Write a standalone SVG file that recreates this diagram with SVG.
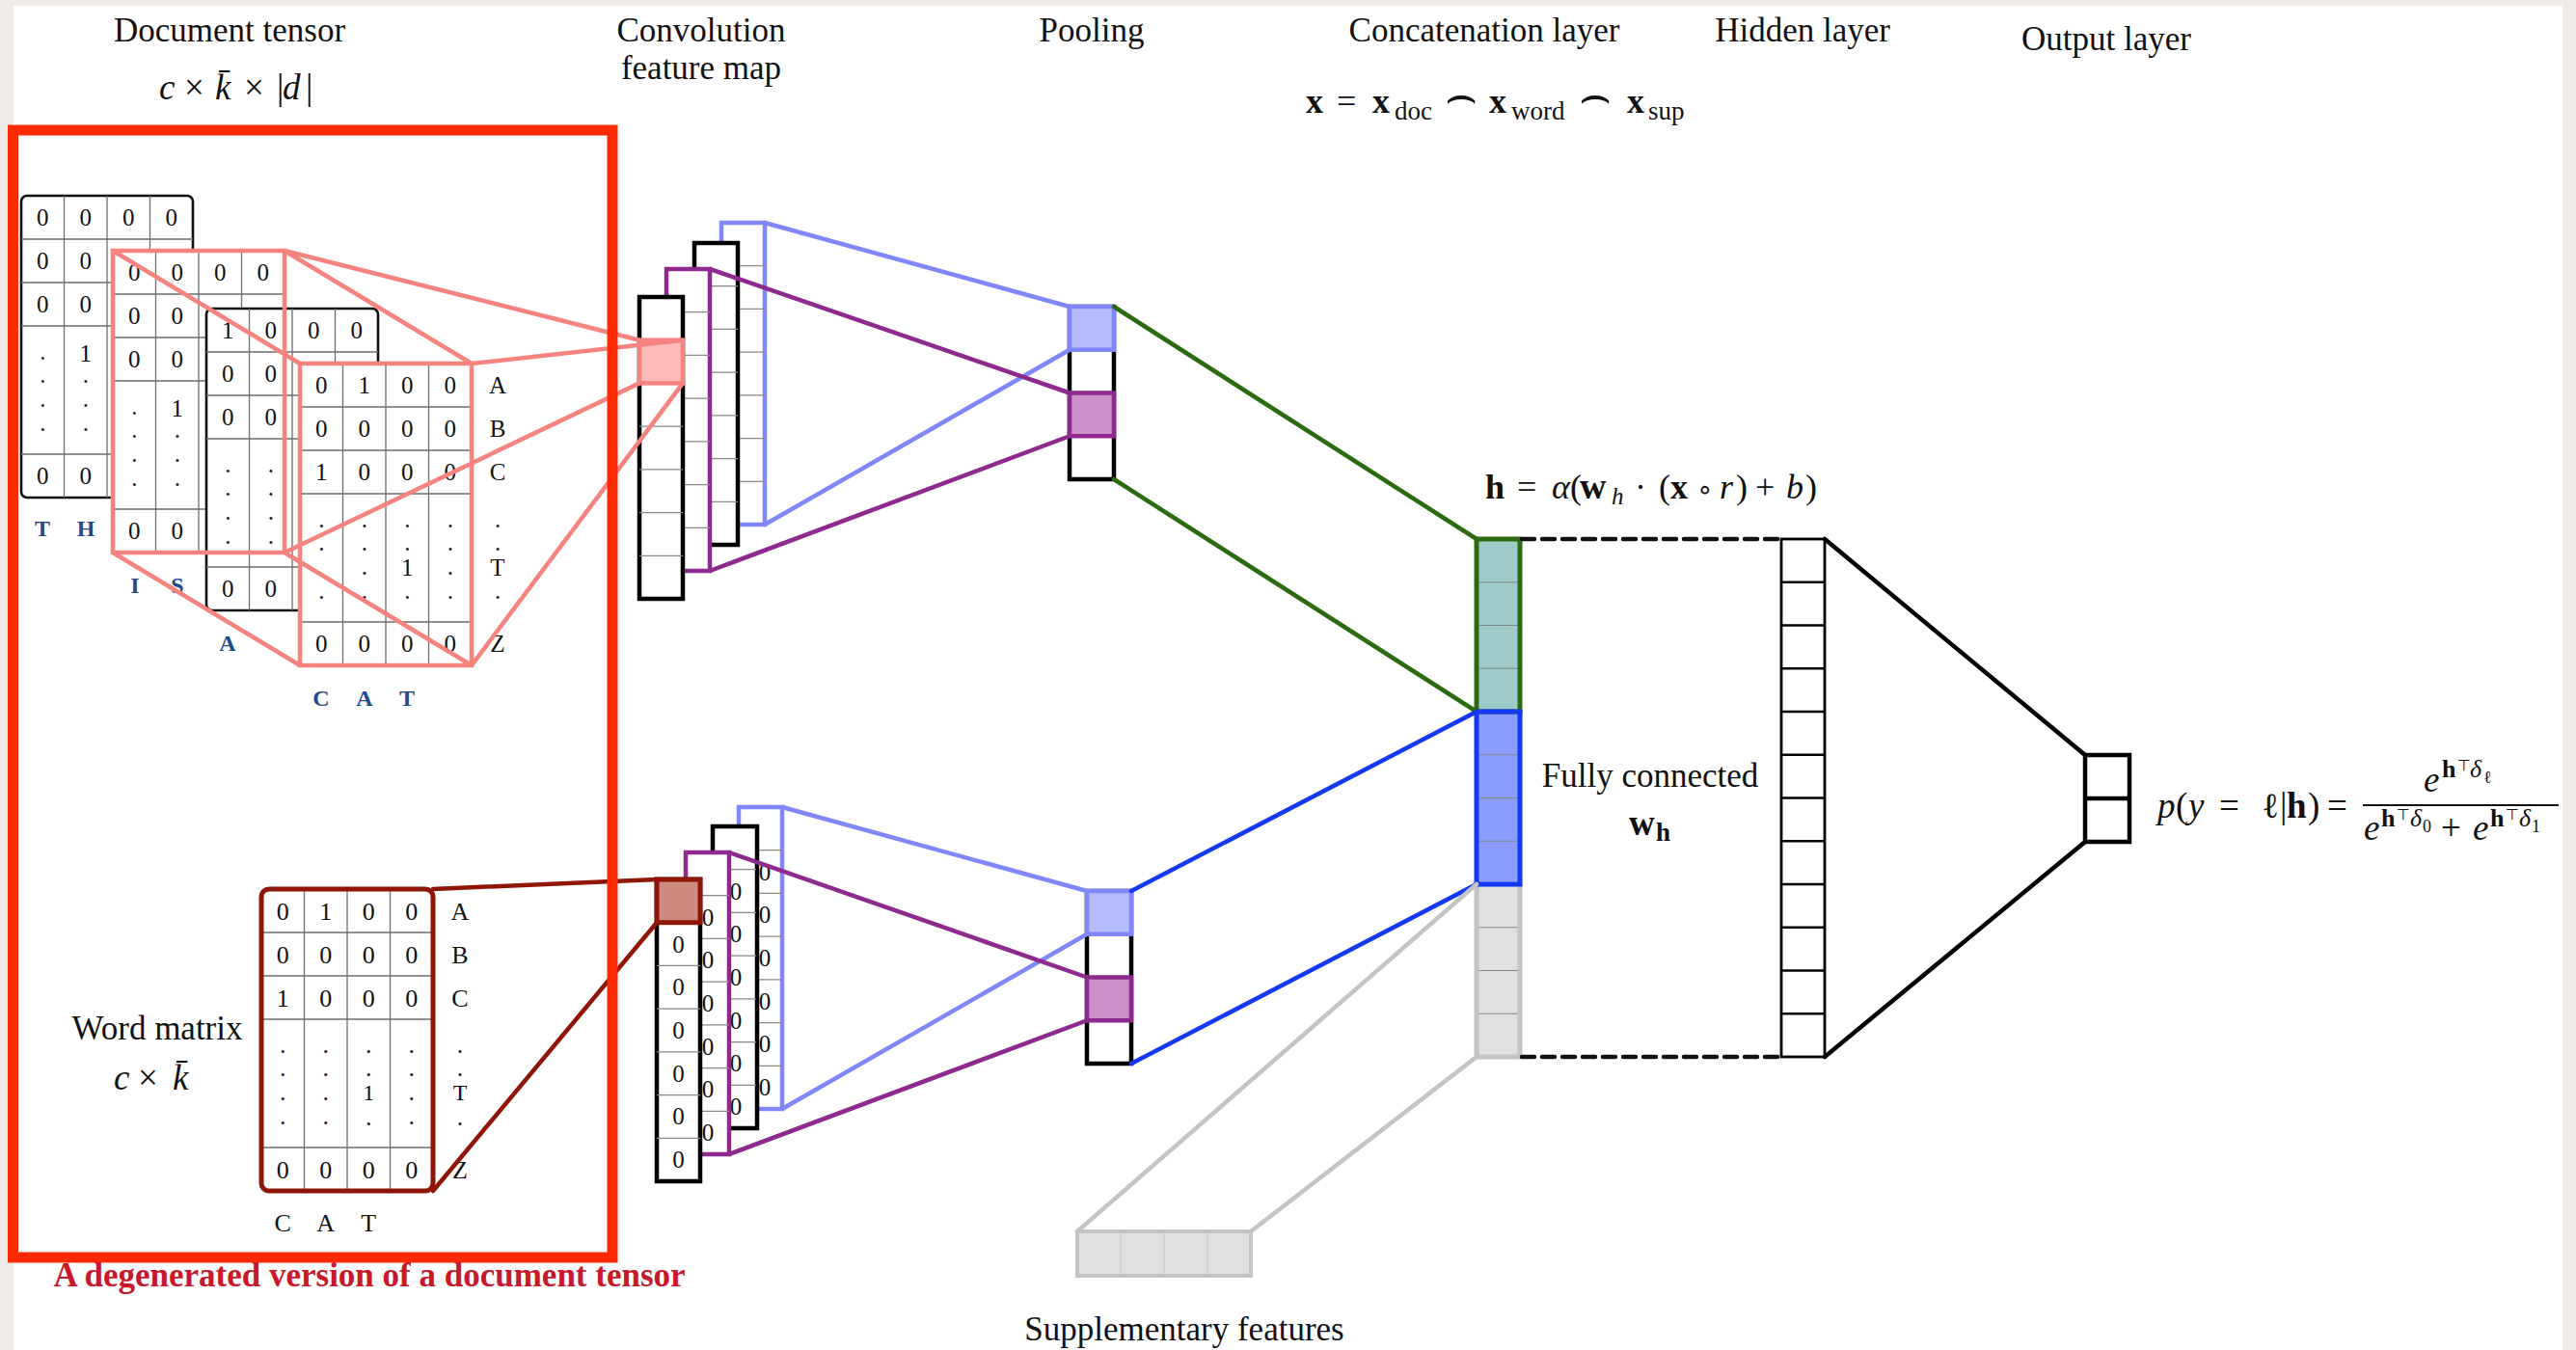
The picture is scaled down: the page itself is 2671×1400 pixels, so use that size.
<svg xmlns="http://www.w3.org/2000/svg" width="2671" height="1400" viewBox="0 0 2671 1400">
<defs>
<style>
text{font-family:"Liberation Serif","Times New Roman",serif;fill:#111}
.lbl{font-size:35px;text-anchor:middle}
.d{font-size:25px;text-anchor:middle}
.dw{font-size:26px;text-anchor:middle}
.z{font-size:25px;text-anchor:middle}
.tag{font-size:24px;font-weight:bold;fill:#1d4b8b;text-anchor:middle}
.grid{fill:none;stroke:#6e6e6e;stroke-width:1.3}
.m-black{fill:#fff;stroke:#111;stroke-width:2.6}
.cg{fill:none;stroke:#8a8a8a;stroke-width:1.3}
.col{fill:#fff;stroke-width:4.5}
.conn path{fill:none;stroke-width:4.5;stroke-linecap:round}
.b{font-weight:bold}
.i{font-style:italic}
.sym{font-family:"DejaVu Sans",sans-serif}
</style>
<!-- 4 columns x 5 rows grid of a one-hot character matrix -->
<path id="mgrid" d="M44.5 0V313M89 0V313M133.5 0V313M0 45H178M0 90H178M0 135H178M0 268H178"/>
<!-- cell separators of a 7-cell feature column -->
<path id="c7" d="M0 44.71H45M0 89.43H45M0 134.14H45M0 178.86H45M0 223.57H45M0 268.29H45"/>
<!-- cell separators of a 12-cell layer column -->
<path id="c12" d="M0 44.75H45M0 89.5H45M0 134.25H45M0 179H45M0 223.75H45M0 268.5H45M0 313.25H45M0 358H45M0 402.75H45M0 447.5H45M0 492.25H45"/>
</defs>

<rect width="2671" height="1400" fill="#eeebe8"/>
<rect x="14" y="6" width="2643" height="1394" fill="#fff"/>

<!-- column titles -->
<g id="titles" class="lbl">
<text x="238" y="43">Document tensor</text>
<text x="727" y="43">Convolution</text>
<text x="727" y="82">feature map</text>
<text x="1132" y="43">Pooling</text>
<text x="1539" y="43">Concatenation layer</text>
<text x="1869" y="43">Hidden layer</text>
<text x="2184" y="52">Output layer</text>
</g>

<text id="tensor-dims" y="103" font-size="37"><tspan x="165" class="i">c</tspan><tspan x="191">×</tspan><tspan x="223" class="i">k̄</tspan><tspan x="253">×</tspan><tspan x="287">|</tspan><tspan x="293" class="i">d</tspan><tspan x="317">|</tspan></text>

<text id="concat-formula" y="117" font-size="36"><tspan x="1354" class="b">x</tspan><tspan x="1386">=</tspan><tspan x="1423" class="b">x</tspan><tspan x="1446" y="124" font-size="27">doc</tspan><tspan x="1498" y="116" class="sym" font-size="52">⌢</tspan><tspan x="1544" y="117" class="b">x</tspan><tspan x="1567" y="124" font-size="27">word</tspan><tspan x="1637" y="116" class="sym" font-size="52">⌢</tspan><tspan x="1687" y="117" class="b">x</tspan><tspan x="1709" y="124" font-size="27">sup</tspan></text>

<!-- document tensor: four stacked character matrices -->
<g id="document-tensor">
<g id="slice-th" transform="translate(22,203)">
<rect class="m-black" width="178" height="313" rx="6"/>
<use href="#mgrid" class="grid"/>
<g class="d">
<text x="22.25" y="31">0</text><text x="66.75" y="31">0</text><text x="111.25" y="31">0</text><text x="155.75" y="31">0</text>
<text x="22.25" y="76">0</text><text x="66.75" y="76">0</text>
<text x="22.25" y="121">0</text><text x="66.75" y="121">0</text>
<text x="22.25" y="170">.</text><text x="22.25" y="194">.</text><text x="22.25" y="219">.</text><text x="22.25" y="244">.</text>
<text x="66.75" y="172">1</text><text x="66.75" y="194">.</text><text x="66.75" y="219">.</text><text x="66.75" y="244">.</text>
<text x="22.25" y="299">0</text><text x="66.75" y="299">0</text>
</g>
<text class="tag" x="22" y="353">T</text><text class="tag" x="67" y="353">H</text>
</g>

<g id="slice-is" transform="translate(117,260)">
<rect width="178" height="313" fill="#fff"/>
<use href="#mgrid" class="grid"/>
<g class="d">
<text x="22.25" y="31">0</text><text x="66.75" y="31">0</text><text x="111.25" y="31">0</text><text x="155.75" y="31">0</text>
<text x="22.25" y="76">0</text><text x="66.75" y="76">0</text>
<text x="22.25" y="121">0</text><text x="66.75" y="121">0</text>
<text x="22.25" y="170">.</text><text x="22.25" y="194">.</text><text x="22.25" y="219">.</text><text x="22.25" y="244">.</text>
<text x="66.75" y="172">1</text><text x="66.75" y="194">.</text><text x="66.75" y="219">.</text><text x="66.75" y="244">.</text>
<text x="22.25" y="299">0</text><text x="66.75" y="299">0</text>
</g>
<text class="tag" x="23" y="355">I</text><text class="tag" x="67" y="355">S</text>
</g>

<g id="slice-a" transform="translate(214,320)">
<rect class="m-black" width="178" height="313" rx="6"/>
<use href="#mgrid" class="grid"/>
<g class="d">
<text x="22.25" y="31">1</text><text x="66.75" y="31">0</text><text x="111.25" y="31">0</text><text x="155.75" y="31">0</text>
<text x="22.25" y="76">0</text><text x="66.75" y="76">0</text>
<text x="22.25" y="121">0</text><text x="66.75" y="121">0</text>
<text x="22.25" y="170">.</text><text x="22.25" y="194">.</text><text x="22.25" y="219">.</text><text x="22.25" y="244">.</text>
<text x="66.75" y="170">.</text><text x="66.75" y="194">.</text><text x="66.75" y="219">.</text><text x="66.75" y="244">.</text>
<text x="22.25" y="299">0</text><text x="66.75" y="299">0</text>
</g>
<text class="tag" x="22" y="355">A</text>
</g>

<g id="slice-cat" transform="translate(311,377)">
<rect width="178" height="313" fill="#fff"/>
<use href="#mgrid" class="grid"/>
<g class="d">
<text x="22.25" y="31">0</text><text x="66.75" y="31">1</text><text x="111.25" y="31">0</text><text x="155.75" y="31">0</text>
<text x="22.25" y="76">0</text><text x="66.75" y="76">0</text><text x="111.25" y="76">0</text><text x="155.75" y="76">0</text>
<text x="22.25" y="121">1</text><text x="66.75" y="121">0</text><text x="111.25" y="121">0</text><text x="155.75" y="121">0</text>
<text x="22.25" y="170">.</text><text x="22.25" y="194">.</text><text x="22.25" y="244">.</text>
<text x="66.75" y="170">.</text><text x="66.75" y="194">.</text><text x="66.75" y="219">.</text><text x="66.75" y="244">.</text>
<text x="111.25" y="170">.</text><text x="111.25" y="194">.</text><text x="111.25" y="220">1</text><text x="111.25" y="244">.</text>
<text x="155.75" y="170">.</text><text x="155.75" y="194">.</text><text x="155.75" y="219">.</text><text x="155.75" y="244">.</text>
<text x="22.25" y="299">0</text><text x="66.75" y="299">0</text><text x="111.25" y="299">0</text><text x="155.75" y="299">0</text>
<text x="205" y="31">A</text><text x="205" y="76">B</text><text x="205" y="121">C</text>
<text x="205" y="170">.</text><text x="205" y="194">.</text><text x="205" y="220">T</text><text x="205" y="244">.</text>
<text x="205" y="299">Z</text>
</g>
<text class="tag" x="22" y="355">C</text><text class="tag" x="67" y="355">A</text><text class="tag" x="111" y="355">T</text>
</g>
</g>

<!-- word matrix (single-slice tensor) -->
<g id="word-matrix">
<text class="lbl" x="163" y="1078">Word matrix</text>
<text y="1130" font-size="37"><tspan x="118" class="i">c</tspan><tspan x="143">×</tspan><tspan x="179" class="i">k̄</tspan></text>
<g transform="translate(271,922)">
<rect width="178" height="313" rx="8" fill="#fff"/>
<use href="#mgrid" class="grid"/>
<rect width="178" height="313" rx="8" fill="none" stroke="#8f1606" stroke-width="5"/>
<g class="dw">
<text x="22.25" y="32">0</text><text x="66.75" y="32">1</text><text x="111.25" y="32">0</text><text x="155.75" y="32">0</text>
<text x="22.25" y="77">0</text><text x="66.75" y="77">0</text><text x="111.25" y="77">0</text><text x="155.75" y="77">0</text>
<text x="22.25" y="122">1</text><text x="66.75" y="122">0</text><text x="111.25" y="122">0</text><text x="155.75" y="122">0</text>
<text x="22.25" y="170">.</text><text x="22.25" y="194">.</text><text x="22.25" y="219">.</text><text x="22.25" y="244">.</text>
<text x="66.75" y="170">.</text><text x="66.75" y="194">.</text><text x="66.75" y="219">.</text><text x="66.75" y="244">.</text>
<text x="111.25" y="170">.</text><text x="111.25" y="194">.</text><text x="111.25" y="219" font-size="24">1</text><text x="111.25" y="245">.</text>
<text x="155.75" y="170">.</text><text x="155.75" y="194">.</text><text x="155.75" y="219">.</text><text x="155.75" y="244">.</text>
<text x="22.25" y="300">0</text><text x="66.75" y="300">0</text><text x="111.25" y="300">0</text><text x="155.75" y="300">0</text>
<text x="206" y="32">A</text><text x="206" y="77">B</text><text x="206" y="122">C</text>
<text x="206" y="170">.</text><text x="206" y="194">.</text><text x="206" y="219" font-size="24">T</text><text x="206" y="245">.</text>
<text x="206" y="300">Z</text>
<text x="22.25" y="355">C</text><text x="66.75" y="355">A</text><text x="111.25" y="355">T</text>
</g>
</g>
</g>

<!-- convolution feature maps, document branch -->
<g id="conv-doc">
<rect class="col" x="748" y="231" width="45" height="313" stroke="#7f87fb"/>
<use href="#c7" x="748" y="231" class="cg"/>
<rect class="col" x="720" y="252" width="45" height="313" stroke="#000"/>
<use href="#c7" x="720" y="252" class="cg"/>
<rect class="col" x="691" y="279" width="45" height="313" stroke="#8e2a8e"/>
<use href="#c7" x="691" y="279" class="cg"/>
<rect class="col" x="663" y="308" width="45" height="313" stroke="#000"/>
<use href="#c7" x="663" y="308" class="cg"/>
<rect x="663" y="352.7" width="45" height="44.7" fill="#fdbab8" stroke="#f7837f" stroke-width="4.5"/>
</g>

<!-- convolution feature maps, word branch -->
<g id="conv-word">
<g class="z">
<rect class="col" x="766" y="837" width="45" height="313" stroke="#7f87fb"/>
<use href="#c7" x="766" y="837" class="cg"/>
<text x="793" y="912.6">0</text><text x="793" y="957.3">0</text><text x="793" y="1002">0</text><text x="793" y="1046.7">0</text><text x="793" y="1091.4">0</text><text x="793" y="1136.1">0</text>
<rect class="col" x="739" y="857" width="46" height="313" stroke="#000"/>
<use href="#c7" x="739" y="857" class="cg"/>
<text x="763" y="932.6">0</text><text x="763" y="977.3">0</text><text x="763" y="1022">0</text><text x="763" y="1066.7">0</text><text x="763" y="1111.4">0</text><text x="763" y="1156.1">0</text>
<rect class="col" x="711" y="884" width="45" height="313" stroke="#8e2a8e"/>
<use href="#c7" x="711" y="884" class="cg"/>
<text x="734" y="959.6">0</text><text x="734" y="1004.3">0</text><text x="734" y="1049">0</text><text x="734" y="1093.7">0</text><text x="734" y="1138.4">0</text><text x="734" y="1183.1">0</text>
<rect class="col" x="681" y="912" width="45" height="313" stroke="#000"/>
<use href="#c7" x="681" y="912" class="cg"/>
<text x="703.5" y="987.6">0</text><text x="703.5" y="1032.3">0</text><text x="703.5" y="1077">0</text><text x="703.5" y="1121.7">0</text><text x="703.5" y="1166.4">0</text><text x="703.5" y="1211.1">0</text>
<rect x="681" y="912" width="45" height="44.7" fill="#d08b81" stroke="#8f1606" stroke-width="5"/>
</g>
</g>

<!-- max pooling outputs -->
<g id="pool-doc">
<rect class="col" x="1109" y="318" width="46" height="179" stroke="#000"/>
<rect x="1109" y="318" width="46" height="44.75" fill="#b5bafb" stroke="#7f87fb" stroke-width="4.5"/>
<rect x="1109" y="407.5" width="46" height="44.75" fill="#cc90c8" stroke="#8e2a8e" stroke-width="4.5"/>
</g>
<g id="pool-word">
<rect class="col" x="1127" y="924" width="46" height="179" stroke="#000"/>
<rect x="1127" y="924" width="46" height="44.75" fill="#b5bafb" stroke="#7f87fb" stroke-width="4.5"/>
<rect x="1127" y="1013.5" width="46" height="44.75" fill="#cc90c8" stroke="#8e2a8e" stroke-width="4.5"/>
</g>

<!-- supplementary features -->
<g id="supplementary">
<rect x="1117" y="1277" width="180" height="46" fill="#e0e0e0" stroke="#c4c4c4" stroke-width="4"/>
<path d="M1162 1279V1321M1207 1279V1321M1252 1279V1321" stroke="#cdcdcd" stroke-width="1.5"/>
<text class="lbl" x="1228" y="1390">Supplementary features</text>
</g>

<!-- concatenated vector x -->
<g id="concat">
<rect x="1531" y="559" width="45" height="179" fill="#9ecac8"/>
<rect x="1531" y="738" width="45" height="179" fill="#8c9cfc"/>
<rect x="1531" y="917" width="45" height="179" fill="#e0e0e0"/>
<use href="#c12" x="1531" y="559" stroke="#7d8b8b" stroke-width="1.2"/>
<rect x="1531" y="917" width="45" height="179" fill="none" stroke="#c4c4c4" stroke-width="5"/>
<rect x="1531" y="559" width="45" height="179" fill="none" stroke="#2c6a10" stroke-width="5"/>
<rect x="1531" y="738" width="45" height="179" fill="none" stroke="#1438f5" stroke-width="5"/>
<text y="517" font-size="36"><tspan x="1540" class="b">h</tspan><tspan x="1573">=</tspan><tspan x="1609" class="i">α</tspan><tspan x="1628">(</tspan><tspan x="1638" class="b" font-size="38">w</tspan><tspan x="1671" y="523" class="i" font-size="25">h</tspan><tspan x="1695" y="517">·</tspan><tspan x="1720">(</tspan><tspan x="1732" class="b">x</tspan><tspan x="1759" class="sym" font-size="28">∘</tspan><tspan x="1783" class="i">r</tspan><tspan x="1800">)</tspan><tspan x="1820">+</tspan><tspan x="1852" class="i">b</tspan><tspan x="1872">)</tspan></text>
</g>

<!-- hidden layer -->
<g id="hidden">
<rect x="1847" y="559" width="45" height="537" fill="#fff" stroke="#000" stroke-width="2.8"/>
<use href="#c12" x="1847" y="559" stroke="#000" stroke-width="2.4"/>
<text class="lbl" x="1711" y="816">Fully connected</text>
<text y="866"><tspan x="1689" class="b" font-size="37">w</tspan><tspan x="1717" y="872" class="b" font-size="27">h</tspan></text>
</g>

<!-- output layer and softmax -->
<g id="output">
<rect x="2162" y="783" width="46" height="90" fill="#fff" stroke="#000" stroke-width="4.5"/>
<path d="M2162 828H2208" stroke="#000" stroke-width="4.5"/>
<text y="848" font-size="37"><tspan x="2237" class="i">p</tspan><tspan x="2256">(</tspan><tspan x="2269" class="i">y</tspan><tspan x="2301">=</tspan><tspan x="2345">ℓ</tspan><tspan x="2364">|</tspan><tspan x="2371" class="b">h</tspan><tspan x="2393">)</tspan><tspan x="2413">=</tspan></text>
<path d="M2450 835H2653" stroke="#111" stroke-width="2"/>
<text y="821" font-size="37"><tspan x="2513" class="i">e</tspan><tspan x="2532" y="806" class="b" font-size="26">h</tspan><tspan x="2548" y="799" class="sym" font-size="16">⊤</tspan><tspan x="2561" y="806" class="i" font-size="26">δ</tspan><tspan x="2575" y="812" font-size="18">ℓ</tspan></text>
<text y="871" font-size="37"><tspan x="2451" class="i">e</tspan><tspan x="2469" y="857" class="b" font-size="26">h</tspan><tspan x="2485" y="850" class="sym" font-size="16">⊤</tspan><tspan x="2499" y="857" class="i" font-size="26">δ</tspan><tspan x="2512" y="863" font-size="18">0</tspan><tspan x="2531" y="871">+</tspan><tspan x="2564" class="i">e</tspan><tspan x="2582" y="857" class="b" font-size="26">h</tspan><tspan x="2598" y="850" class="sym" font-size="16">⊤</tspan><tspan x="2612" y="857" class="i" font-size="26">δ</tspan><tspan x="2625" y="863" font-size="18">1</tspan></text>
</g>

<!-- connectors -->
<g id="connectors" class="conn">
<path stroke="#f7837f" stroke-width="5" stroke-linejoin="miter" d="M117 260H295V573H117ZM311 377H489V690H311ZM117 260L311 377M295 260L489 377M117 573L311 690M295 573L489 690M295 260L663 352.7M489 377L708 352.7M295 573L663 397.4M489 690L708 397.4"/>
<path stroke="#8f1606" stroke-width="5" d="M449 922L681 912M449 1235L681 956.7"/>
<path stroke="#7f87fb" d="M793 231L1109 318M793 544L1109 362.75"/>
<path stroke="#8e2a8e" d="M736 279L1109 407.5M736 592L1109 452.25"/>
<path stroke="#7f87fb" d="M811 837L1127 924M811 1150L1127 968.75"/>
<path stroke="#8e2a8e" d="M756 884L1127 1013.5M756 1197L1127 1058.25"/>
<path stroke="#2c6a10" stroke-width="3.5" d="M1155 318L1531 559M1155 497L1531 738"/>
<path stroke="#1438f5" stroke-width="4" d="M1173 924L1531 738M1173 1103L1531 917"/>
<path stroke="#c4c4c4" stroke-width="4" d="M1117 1277L1531 917M1297 1277L1531 1096"/>
<path stroke="#111" stroke-width="3" stroke-linecap="butt" stroke-dasharray="13 8" d="M1578 559H1847M1578 1096H1847"/>
<path stroke="#000" stroke-width="4" d="M1892 559L2162 783M1892 1096L2162 873"/>
</g>

<!-- frame around the document tensor and its degenerate form -->
<g id="tensor-frame">
<rect x="13.5" y="135" width="621.5" height="1169" fill="none" stroke="#fe2a04" stroke-width="11"/>
<text x="383" y="1334" font-size="35" font-weight="bold" text-anchor="middle" style="fill:#c8182c">A degenerated version of a document tensor</text>
</g>
</svg>
